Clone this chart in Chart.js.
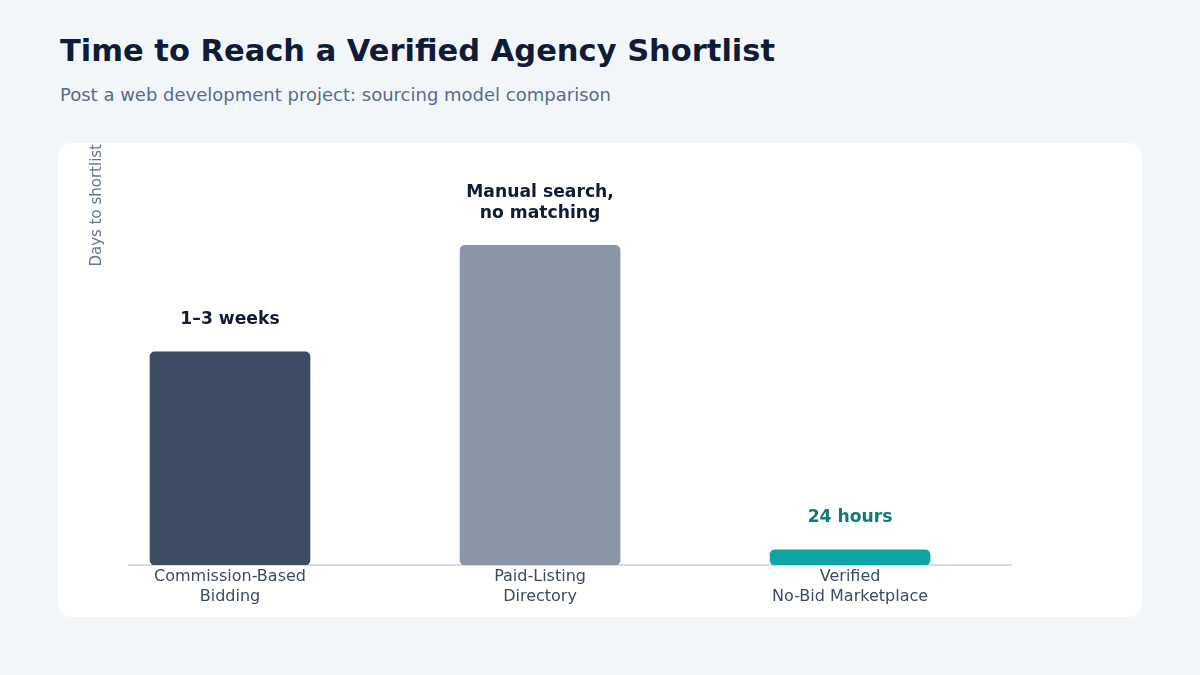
<!DOCTYPE html>
<html>
<head>
<meta charset="utf-8">
<script src="https://cdn.jsdelivr.net/npm/chart.js@4.4.1/dist/chart.umd.min.js"></script>
<style>
  html, body { margin: 0; padding: 0; }
  body { width: 1200px; height: 675px; background: #f3f6f9; position: relative; overflow: hidden; font-family: "DejaVu Sans", sans-serif; }
  #title { position: absolute; left: 60px; top: 31px; margin: 0; font: bold 30.5px "DejaVu Sans", sans-serif; color: #111b35; white-space: nowrap; line-height: 40px; }
  #subtitle { position: absolute; left: 60px; top: 83px; margin: 0; font: 18px "DejaVu Sans", sans-serif; color: #5b6b86; white-space: nowrap; line-height: 24px; }
  #card { position: absolute; left: 58px; top: 143px; width: 1084px; height: 474px; background: #ffffff; border-radius: 14px; }
  #c { position: absolute; left: 0; top: 0; }
</style>
</head>
<body>
<h1 id="title">Time to Reach a Verified Agency Shortlist</h1>
<p id="subtitle">Post a web development project: sourcing model comparison</p>
<div id="card"></div>
<canvas id="c" width="1200" height="675"></canvas>
<script>
// ---- data ----
const categories = [
  ['Commission-Based', 'Bidding'],
  ['Paid-Listing', 'Directory'],
  ['Verified', 'No-Bid Marketplace']
];
const daysToShortlist = [14, 21, 1];
const valueLabels = [
  ['1\u20133 weeks'],
  ['Manual search,', 'no matching'],
  ['24 hours']
];
const barColors = ['#3e4c63', '#8a95a8', '#10a4a4'];
const labelColors = ['#111b35', '#111b35', '#0f7a78'];
const yAxisTitle = 'Days to shortlist';

const valueLabelPlugin = {
  id: 'valueLabels',
  afterDatasetsDraw(chart) {
    const ctx = chart.ctx;
    const meta = chart.getDatasetMeta(0);
    ctx.save();
    ctx.font = 'bold 17.2px "DejaVu Sans", sans-serif';
    ctx.textAlign = 'center';
    ctx.textBaseline = 'alphabetic';
    meta.data.forEach((bar, i) => {
      const lines = valueLabels[i];
      ctx.fillStyle = labelColors[i];
      const n = lines.length;
      lines.forEach((line, j) => {
        const y = bar.y - 27.5 - (n - 1 - j) * 20.5;
        ctx.fillText(line, bar.x, y);
      });
    });
    ctx.restore();
  }
};

const chart = new Chart(document.getElementById('c'), {
  type: 'bar',
  data: {
    datasets: [{
      data: daysToShortlist.map((v, i) => ({ x: i, y: v })),
      backgroundColor: barColors,
      borderRadius: 5,
      borderSkipped: false,
      barThickness: 160
    }]
  },
  options: {
    responsive: false,
    animation: false,
    devicePixelRatio: 1,
    layout: { padding: { left: 84, top: 144, right: 189, bottom: 0 } },
    plugins: { legend: { display: false }, tooltip: { enabled: false } },
    scales: {
      x: {
        type: 'linear',
        offset: false,
        min: -0.3258,
        max: 2.519,
        afterBuildTicks(scale) {
          scale.ticks = categories.map((c, i) => ({ value: i }));
        },
        afterFit(scale) { scale.height = 110; },
        grid: { display: false, drawTicks: false, offset: false },
        border: { display: true, color: '#d6dce6', width: 2 },
        ticks: {
          autoSkip: false,
          maxRotation: 0,
          padding: 1.5,
          color: '#3d4a60',
          font: { family: '"DejaVu Sans", sans-serif', size: 16, lineHeight: 1.25 },
          callback: (v) => categories[v] || ''
        }
      },
      y: {
        min: 0,
        max: 27.65,
        afterFit(scale) { scale.width = 45; },
        grid: { display: false, drawTicks: false },
        border: { display: false },
        ticks: { display: false },
        title: {
          display: true,
          text: yAxisTitle,
          align: 'end',
          color: '#64748b',
          font: { family: '"DejaVu Sans", sans-serif', size: 15 },
          padding: { top: 4, bottom: 4 }
        }
      }
    }
  },
  plugins: [valueLabelPlugin]
});
</script>
</body>
</html>
